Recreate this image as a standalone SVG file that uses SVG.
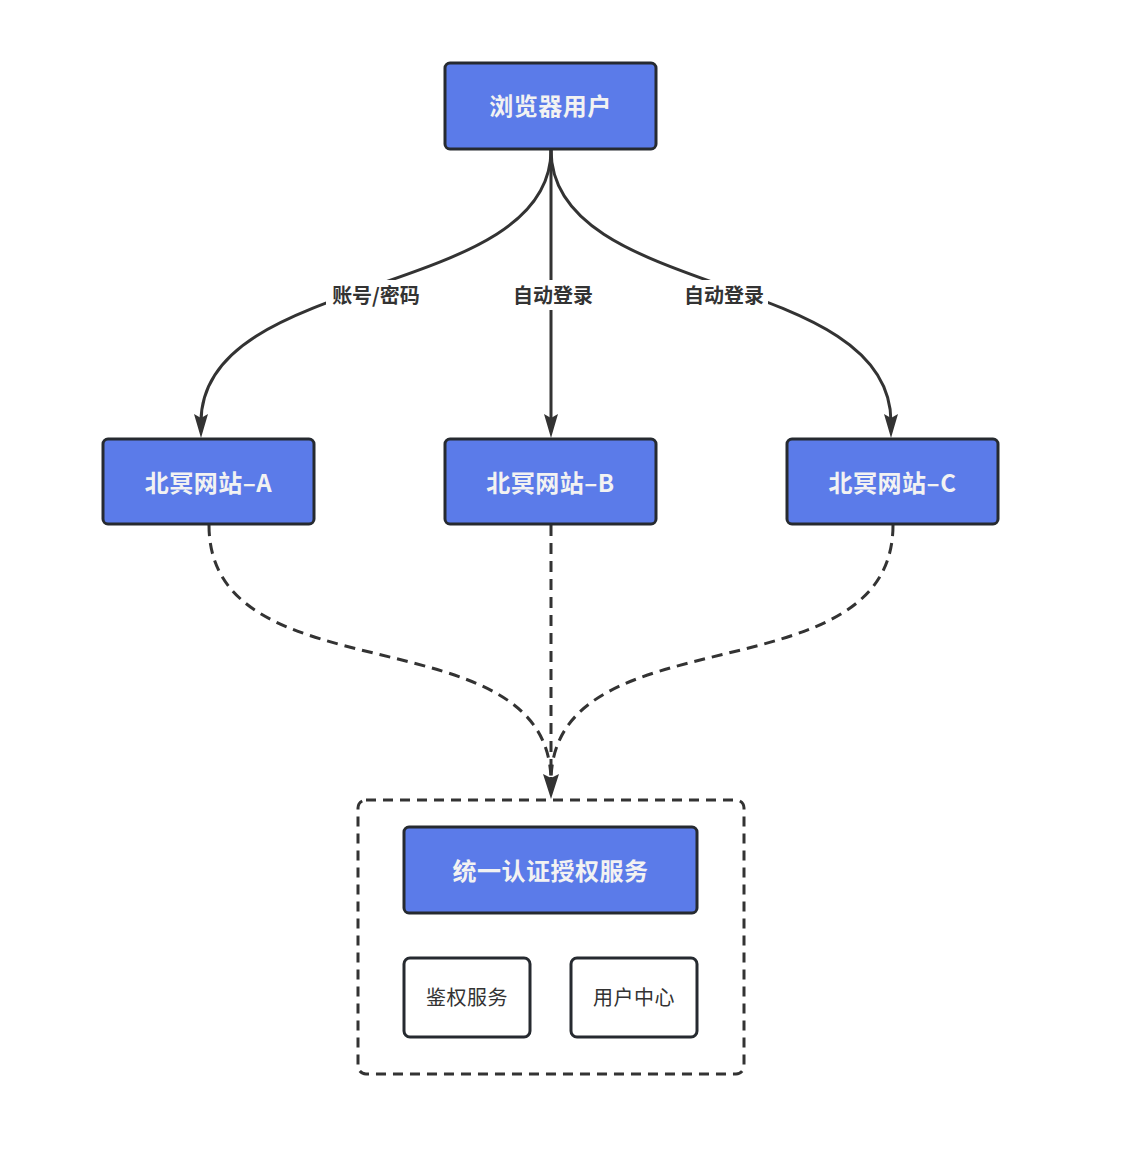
<svg xmlns="http://www.w3.org/2000/svg" width="1126" height="1170" viewBox="0 0 1126 1170">
<defs>
<style>
.n{fill:#5b7be9;stroke:#262a30;stroke-width:3}
.w{fill:#ffffff;stroke:#262a30;stroke-width:3}
.t{font-family:"Noto Sans CJK SC","Liberation Sans",sans-serif;font-size:24px;font-weight:bold;fill:#f2f2f2;text-anchor:middle;dominant-baseline:central;letter-spacing:0.5px}
.s{font-family:"Noto Sans CJK SC","Liberation Sans",sans-serif;font-size:20px;fill:#333333;text-anchor:middle;dominant-baseline:central;letter-spacing:0.5px}
.l{font-family:"Noto Sans CJK SC","Liberation Sans",sans-serif;font-size:20px;font-weight:bold;fill:#333333;text-anchor:middle;dominant-baseline:central}
.e{fill:none;stroke:#333333;stroke-width:3}
.d{fill:none;stroke:#333333;stroke-width:3;stroke-dasharray:11 7}
.h{fill:#333333}
</style>
</defs>
<rect width="1126" height="1170" fill="#ffffff"/>
<g id="connectors">
<path class="e" d="M551,150 C551,300 201,270 201,422"/>
<path class="e" d="M551,150 L551,422"/>
<path class="e" d="M551,150 C551,300 891,270 891,422"/>
<path class="d" d="M209,525 C209,700 551,610 551,782"/>
<path class="d" d="M551,525 L551,782"/>
<path class="d" d="M893,525 C893,700 551,610 551,782"/>
<path class="h" d="M194,414 L201,438 L208,414 L201,418 Z"/>
<path class="h" d="M544,414 L551,438 L558,414 L551,418 Z"/>
<path class="h" d="M884,414 L891,438 L898,414 L891,418 Z"/>
<path class="h" d="M543,774 L551,799 L559,774 L551,778 Z"/>
<rect x="326" y="280" width="100" height="30" fill="#ffffff"/>
<text class="l" x="376" y="294">账号/密码</text>
<rect x="509" y="280" width="88" height="30" fill="#ffffff"/>
<text class="l" x="553" y="294">自动登录</text>
<rect x="680" y="280" width="88" height="30" fill="#ffffff"/>
<text class="l" x="724" y="294">自动登录</text>
</g>
<g id="browser">
<rect class="n" x="445" y="63" width="211" height="86" rx="5"/>
<text class="t" x="550.5" y="104">浏览器用户</text>
</g>
<g id="siteA">
<rect class="n" x="103" y="439" width="211" height="85" rx="5"/>
<text class="t" x="208.5" y="481">北冥网站–A</text>
</g>
<g id="siteB">
<rect class="n" x="445" y="439" width="211" height="85" rx="5"/>
<text class="t" x="550.5" y="481">北冥网站–B</text>
</g>
<g id="siteC">
<rect class="n" x="787" y="439" width="211" height="85" rx="5"/>
<text class="t" x="892.5" y="481">北冥网站–C</text>
</g>
<g id="auth">
<rect x="358" y="800" width="386" height="274" rx="8" fill="none" stroke="#333333" stroke-width="3" stroke-dasharray="10 7"/>
<g id="uas">
<rect class="n" x="404" y="827" width="293" height="86" rx="5"/>
<text class="t" x="550.5" y="869">统一认证授权服务</text>
</g>
<g id="authsvc">
<rect class="w" x="404" y="958" width="126" height="79" rx="6"/>
<text class="s" x="467" y="996">鉴权服务</text>
</g>
<g id="usercenter">
<rect class="w" x="571" y="958" width="126" height="79" rx="6"/>
<text class="s" x="634" y="996">用户中心</text>
</g>
</g>
</svg>
